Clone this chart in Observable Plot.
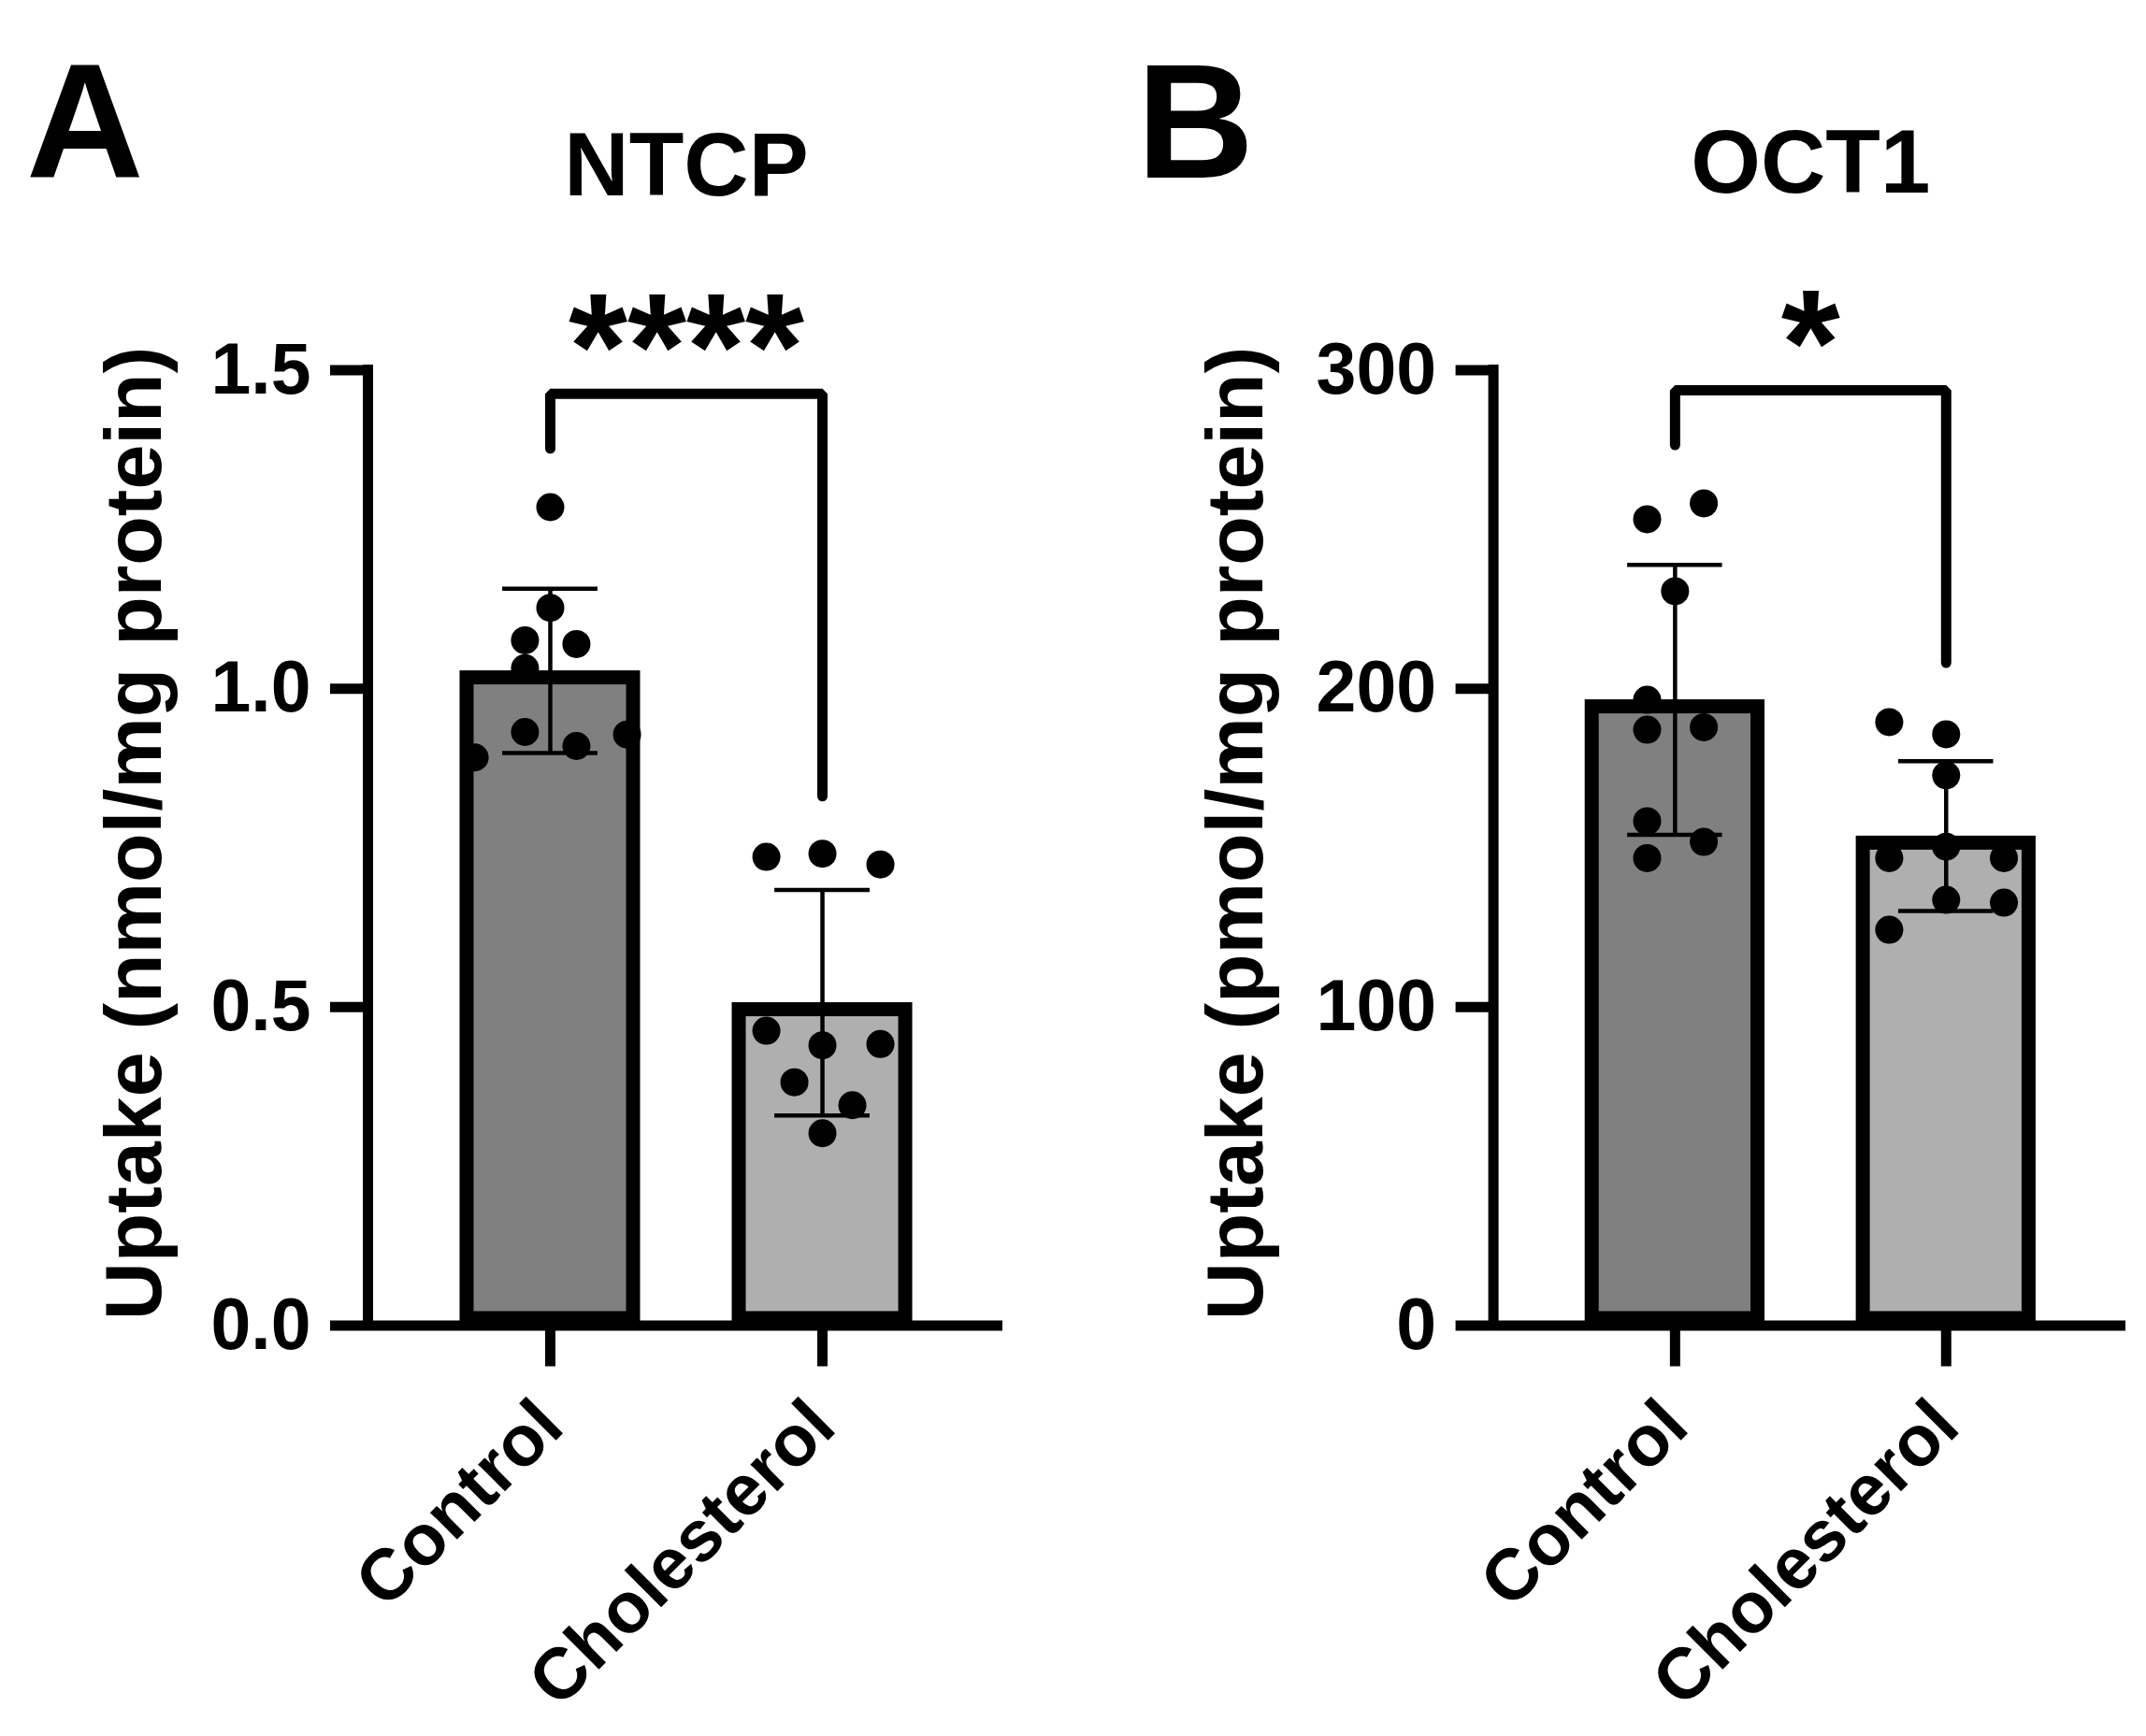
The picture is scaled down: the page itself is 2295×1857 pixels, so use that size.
<!DOCTYPE html>
<html>
<head>
<meta charset="utf-8">
<script src="https://cdn.jsdelivr.net/npm/d3@7"></script>
<script src="https://cdn.jsdelivr.net/npm/@observablehq/plot@0.6"></script>
<style>
  html, body { margin: 0; padding: 0; background: #fff; }
  #wrap { display: flex; width: 2295px; height: 1857px; background: #fff; overflow: hidden; }
  #wrap svg { flex: none; display: block; max-width: none; }
</style>
</head>
<body>
<div id="wrap"></div>
<script>
// ---------- shared ----------
const groups = ["Control", "Cholesterol"];
const groupPos = [1, 2];
const barFills = ["#808080", "#afafaf"];

// ---------- Panel A : NTCP ----------
const ntcpTitle = "NTCP";
const ntcpLetter = "A";
const ntcpYLabel = "Uptake (nmol/mg protein)";
const ntcpYTicks = [0, 0.5, 1.0, 1.5];
const ntcpMean = [1.028, 0.507];
const ntcpSD = [0.129, 0.177];
const ntcpControlValues = [1.285, 1.127, 1.076, 1.070, 1.032, 0.932, 0.910, 0.928, 0.892];
const ntcpControlJitter = [0, 0, -0.093, 0.096, -0.093, -0.093, 0.096, 0.282, -0.278];
const ntcpCholValues = [0.741, 0.736, 0.724, 0.463, 0.442, 0.440, 0.382, 0.346, 0.302];
const ntcpCholJitter = [0, -0.206, 0.213, -0.206, 0.213, 0, -0.103, 0.110, 0];
const ntcpBracket = [1.377, 1.463, 1.463, 0.831];
const ntcpStars = "****";

// ---------- Panel B : OCT1 ----------
const oct1Title = "OCT1";
const oct1Letter = "B";
const oct1YLabel = "Uptake (pmol/mg protein)";
const oct1YTicks = [0, 100, 200, 300];
const oct1Mean = [196.5, 153.7];
const oct1SD = [42.4, 23.5];
const oct1ControlValues = [253.2, 258.2, 230.6, 196.5, 187.1, 187.9, 158.4, 151.9, 146.8];
const oct1ControlJitter = [-0.103, 0.106, 0, -0.103, -0.103, 0.106, -0.103, 0.106, -0.103];
const oct1CholValues = [189.5, 185.7, 172.8, 146.8, 150.4, 146.8, 133.7, 132.8, 124.3];
const oct1CholJitter = [-0.210, 0, 0, -0.210, 0, 0.213, 0, 0.213, -0.210];
const oct1Bracket = [276.5, 293.7, 293.7, 208.1];
const oct1Stars = "*";

// ---------- styling constants ----------
const xDomain = [0.33, 2.663];
const barHalf = 0.3316;
const capHalf = 0.175;
const bracketX = [1, 1, 2, 2];
const FONT = "'Liberation Sans', Arial, Helvetica, sans-serif";

function panel(cfg) {
  const bars = groups.map((g, i) => ({group: g, pos: groupPos[i], mean: cfg.mean[i], sd: cfg.sd[i], fill: barFills[i]}));
  const pts = [];
  cfg.values.forEach((vals, i) => vals.forEach((v, j) => pts.push({pos: groupPos[i], jitter: cfg.jitter[i][j], value: v})));
  const bracket = cfg.bracket.map((y, k) => ({x: bracketX[k], y}));
  const yMax = cfg.yTicks[cfg.yTicks.length - 1];
  const mid = d3.mean(groupPos);
  return Plot.plot({
    width: cfg.width,
    height: 1857,
    marginTop: 395.5,
    marginBottom: 439.5,
    marginLeft: cfg.marginLeft,
    marginRight: cfg.marginRight,
    x: {type: "linear", domain: xDomain},
    y: {domain: [0, yMax]},
    color: {type: "identity"},
    style: {fontFamily: FONT, fontWeight: "bold", background: "white", color: "black", overflow: "visible"},
    marks: [
      Plot.rect(bars, {x1: d => d.pos - barHalf, x2: d => d.pos + barHalf, y1: 0, y2: "mean",
        fill: "fill", stroke: "black", strokeWidth: 15, inset: 7.5}),
      Plot.ruleX(bars, {x: "pos", y1: d => d.mean - d.sd, y2: d => d.mean + d.sd, strokeWidth: 4.5, stroke: "black"}),
      Plot.ruleY(bars, {y: d => d.mean + d.sd, x1: d => d.pos - capHalf, x2: d => d.pos + capHalf, strokeWidth: 4.5, stroke: "black"}),
      Plot.ruleY(bars, {y: d => d.mean - d.sd, x1: d => d.pos - capHalf, x2: d => d.pos + capHalf, strokeWidth: 4.5, stroke: "black"}),
      Plot.dot(pts, {x: d => d.pos + d.jitter, y: "value", r: 15, fill: "black"}),
      Plot.line(bracket, {x: "x", y: "y", stroke: "black", strokeWidth: 11, strokeLinecap: "round", strokeLinejoin: "miter"}),
      Plot.text([cfg.stars], {text: d => d, x: () => mid, y: () => cfg.bracket[1], lineAnchor: "bottom", dy: 5, fontSize: 162}),
      Plot.ruleX([xDomain[0]], {y1: 0, y2: yMax, stroke: "black", strokeWidth: 11, strokeLinecap: "square"}),
      Plot.ruleY([0], {stroke: "black", strokeWidth: 11}),
      Plot.axisY(cfg.yTicks, {tickSize: 40, tickPadding: 21, tickFormat: cfg.yFormat, fontSize: 77, strokeWidth: 11, label: null}),
      Plot.axisX(groupPos, {tickSize: 44, strokeWidth: 11, tickFormat: d => groups[groupPos.indexOf(d)],
        tickRotate: -45, textAnchor: "end", lineAnchor: "middle", tickPadding: 50, fontSize: 77, label: null}),
      Plot.text([cfg.yLabel], {text: d => d, frameAnchor: "left", rotate: -90, textAnchor: "middle", lineAnchor: "bottom",
        dx: cfg.labelDx, dy: -15.5, fontSize: 86}),
      Plot.text([cfg.title], {text: d => d, x: () => mid, frameAnchor: "top", lineAnchor: "bottom", dy: cfg.titleDy, fontSize: 96}),
      Plot.text([cfg.letter], {text: d => d, frameAnchor: "top-left", textAnchor: "start", lineAnchor: "bottom",
        dx: cfg.letterDx, dy: -206.5, fontSize: 174})
    ]
  });
}

const wrap = document.getElementById("wrap");
wrap.append(panel({
  width: 1148, marginLeft: 393, marginRight: 1148 - 1072,
  yTicks: ntcpYTicks, yFormat: d3.format(".1f"), mean: ntcpMean, sd: ntcpSD,
  values: [ntcpControlValues, ntcpCholValues], jitter: [ntcpControlJitter, ntcpCholJitter],
  bracket: ntcpBracket, stars: ntcpStars, yLabel: ntcpYLabel, labelDx: -222,
  title: ntcpTitle, titleDy: -187.5, letter: ntcpLetter, letterDx: 27.5 - 393
}));
wrap.append(panel({
  width: 1147, marginLeft: 1596.6 - 1148, marginRight: 2295 - 2273,
  yTicks: oct1YTicks, yFormat: d3.format("d"), mean: oct1Mean, sd: oct1SD,
  values: [oct1ControlValues, oct1CholValues], jitter: [oct1ControlJitter, oct1CholJitter],
  bracket: oct1Bracket, stars: oct1Stars, yLabel: oct1YLabel, labelDx: -247,
  title: oct1Title, titleDy: -190.5, letter: oct1Letter, letterDx: 1215 - 1596.6
}));
</script>
</body>
</html>
